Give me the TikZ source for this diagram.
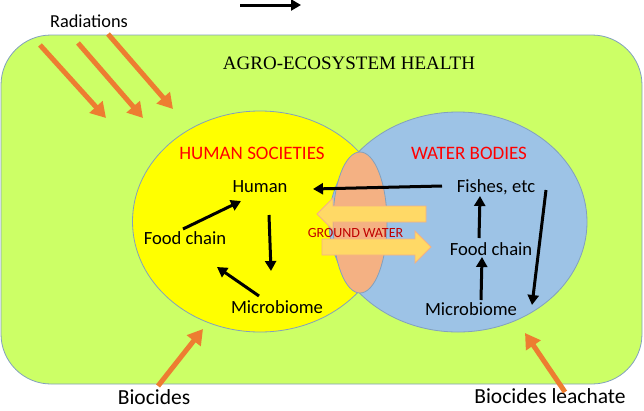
\documentclass[tikz,border=0pt]{standalone}
\usepackage{fontspec}
\setmainfont{Carlito}
\newfontfamily\serifrm{Liberation Serif}
\usetikzlibrary{arrows.meta,shapes.geometric,calc}
\definecolor{agreen}{HTML}{CCFF66}
\definecolor{ayellow}{HTML}{FFFF00}
\definecolor{ablue}{HTML}{9DC3E6}
\definecolor{asalmon}{HTML}{F4B183}
\definecolor{aedge}{RGB}{130,160,190}
\definecolor{gwfill}{HTML}{FFD966}
\definecolor{gwdraw}{HTML}{F4B183}
\definecolor{aorange}{HTML}{ED7D31}
\definecolor{ared}{HTML}{FF0000}
\definecolor{dred}{HTML}{C00000}
\begin{document}
\begin{tikzpicture}[x=1pt,y=-1pt,
  region/.style={draw=aedge, line width=0.8pt, inner sep=0pt},
  blk/.style={line width=3pt, -{Triangle[length=10pt,width=11pt]}},
  org/.style={draw=aorange, line width=5pt, -{Triangle[length=15pt,width=17pt]}},
  lbl/.style={font=\fontsize{18.6}{20}\selectfont, inner sep=0pt},
  head/.style={font=\fontsize{19}{21}\selectfont, text=ared, inner sep=0pt},
  outlbl/.style={font=\fontsize{21.5}{23}\selectfont, inner sep=0pt},
  gwarrow/.style={fill=gwfill, draw=gwdraw, line width=0.8pt}
]
\useasboundingbox (0,0) rectangle (644,410);
% regions
\node[region, fill=agreen, rectangle, rounded corners=50pt,
      minimum width=641pt, minimum height=349pt] (eco) at (321.5,209.5) {};
\node[region, fill=ayellow, ellipse, minimum width=255pt, minimum height=221pt] (society) at (260,221.5) {};
\node[region, fill=ablue, ellipse, minimum width=258pt, minimum height=220pt] (water) at (458,222) {};
\node[region, fill=asalmon, ellipse, minimum width=54pt, minimum height=141pt] (ground) at (360,222.5) {};
% ground water arrows
\filldraw[gwarrow] (317,214) -- (333,198) -- (333,206) -- (426,206) -- (426,222) -- (333,222) -- (333,230) -- cycle;
\filldraw[gwarrow] (431,247) -- (415,231) -- (415,239) -- (322,239) -- (322,255) -- (415,255) -- (415,263) -- cycle;
% texts
\node[font=\serifrm\fontsize{19}{21}\selectfont, inner sep=0pt] (title) at (349,63) {AGRO-ECOSYSTEM HEALTH};
\node[head] (hs) at (252,153) {HUMAN SOCIETIES};
\node[head] (wb) at (469,153) {WATER BODIES};
\node[lbl] (human) at (260,187) {Human};
\node[lbl] (fcL) at (185,238) {Food chain};
\node[lbl] (mbL) at (277,307) {Microbiome};
\node[lbl] (fish) at (496,187) {Fishes, etc};
\node[lbl] (fcR) at (491,249) {Food chain};
\node[lbl] (mbR) at (471,309) {Microbiome};
\node[font=\fontsize{14}{15}\selectfont, text=dred, inner sep=0pt] (gw) at (355.5,233) {GROUND WATER};
\node[font=\fontsize{18.3}{20}\selectfont, inner sep=0pt] (rad) at (89,21) {Radiations};
\node[outlbl] (bioc) at (154,397) {Biocides};
\node[outlbl] (leach) at (550,396) {Biocides leachate};
% black arrows
\draw[blk] ($(fish)+(-54,-1)$) -- ($(human)+(53,2)$);
\draw[blk] ($(fcL)+(-2,-9)$) -- ($(human)+(-19,14)$);
\draw[blk] ($(human)+(9,28)$) -- ($(mbL)+(-6,-36)$);
\draw[blk] ($(mbL)+(-18,-11)$) -- ($(fcL)+(32,29)$);
\draw[blk] ($(fcR)+(-12,-11)$) -- ($(fish)+(-16,9)$);
\draw[blk] ($(mbR)+(10,-9)$) -- ($(fcR)+(-9,8)$);
\draw[blk] ($(fish)+(50,3)$) -- ($(mbR)+(61,-4)$);
% top arrow
\coordinate (ta) at (240,5);
\coordinate (tb) at (301,5);
\draw[blk] (ta) -- (tb);
% radiation arrows
\coordinate (r1a) at (40,45);  \coordinate (r1b) at (106,118);
\coordinate (r2a) at (78,43);  \coordinate (r2b) at (143,118);
\coordinate (r3a) at (108,34); \coordinate (r3b) at (173,109);
\draw[org] (r1a) -- (r1b);
\draw[org] (r2a) -- (r2b);
\draw[org] (r3a) -- (r3b);
% biocide arrows
\draw[org] ($(bioc)+(4,-11)$) -- ($(bioc)+(49,-68)$);
\draw[org] ($(leach)+(15,-4)$) -- ($(leach)+(-25,-63)$);
\end{tikzpicture}
\end{document}
